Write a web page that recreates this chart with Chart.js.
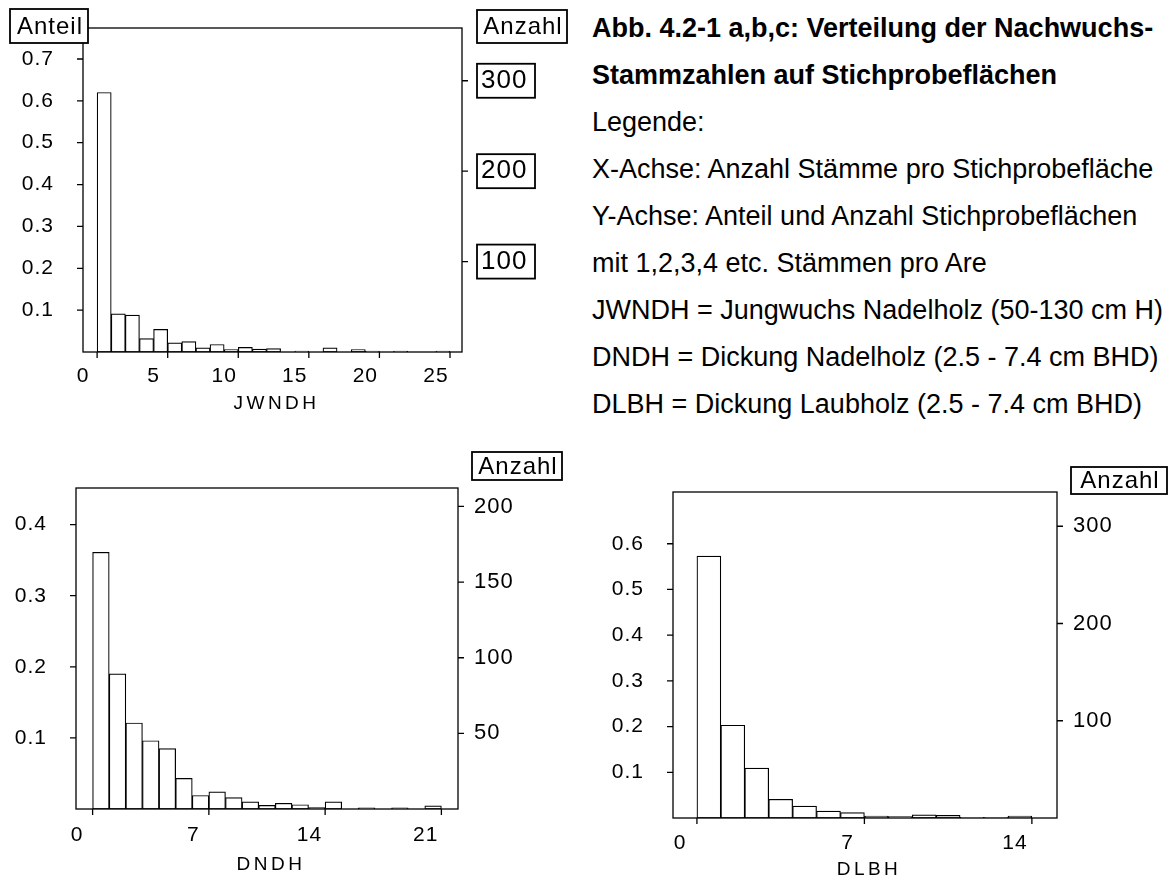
<!DOCTYPE html>
<html lang="de">
<head>
<meta charset="utf-8">
<title>Abb. 4.2-1 a,b,c: Verteilung der Nachwuchs-Stammzahlen</title>
<script src="https://cdn.jsdelivr.net/npm/chart.js@4.4.1/dist/chart.umd.min.js"></script>
<style>
  html, body { margin: 0; padding: 0; background: #fff; }
  body { width: 1170px; height: 882px; position: relative; overflow: hidden;
         font-family: "Liberation Sans", Arial, sans-serif; color: #000; }
  canvas { position: absolute; }
  #legende { position: absolute; left: 592px; top: 5px; font-size: 27px;
             line-height: 47px; white-space: nowrap; }
</style>
</head>
<body>
<canvas id="jwndh" width="580" height="440" style="left:0;top:0"></canvas>
<canvas id="dndh" width="580" height="442" style="left:0;top:440px"></canvas>
<canvas id="dlbh" width="590" height="442" style="left:580px;top:440px"></canvas>

<div id="legende">
  <b>Abb. 4.2-1 a,b,c: Verteilung der Nachwuchs-</b><br>
  <b>Stammzahlen auf Stichprobeflächen</b><br>
  Legende:<br>
  X-Achse: Anzahl Stämme pro Stichprobefläche<br>
  Y-Achse: Anteil und Anzahl Stichprobeflächen<br>
  mit 1,2,3,4 etc. Stämmen pro Are<br>
  JWNDH = Jungwuchs Nadelholz (50-130 cm H)<br>
  DNDH = Dickung Nadelholz (2.5 - 7.4 cm BHD)<br>
  DLBH = Dickung Laubholz (2.5 - 7.4 cm BHD)
</div>

<script>
// --- data: share of sample plots per stem class (class k spans k..k+1) ---
const jwndhStems = [1, 2, 3, 4, 5, 6, 7, 8, 9, 10, 11, 12, 13, 14, 15, 16, 17, 18, 19, 20, 21, 22, 23, 24, 25];
const jwndhShare = [0.620, 0.091, 0.088, 0.032, 0.054, 0.022, 0.025, 0.010, 0.018, 0.006, 0.011, 0.007, 0.008,
                    0, 0.002, 0, 0.010, 0, 0.006, 0.002, 0, 0.002, 0, 0, 0.002];
const jwndhPlots = 463;
const jwndhShareTicks = [0.1, 0.2, 0.3, 0.4, 0.5, 0.6, 0.7];
const jwndhCountTicks = [100, 200, 300];
const jwndhStemTicks = [0, 5, 10, 15, 20, 25];
const jwndhStemMarks = [1, 6, 11, 16, 21, 26];

const dndhStems = [1, 2, 3, 4, 5, 6, 7, 8, 9, 10, 11, 12, 13, 14, 15, 16, 17, 18, 19, 20, 21];
const dndhShare = [0.361, 0.190, 0.121, 0.096, 0.085, 0.043, 0.019, 0.024, 0.016, 0.010, 0.005,
                   0.008, 0.006, 0.002, 0.010, 0, 0.0015, 0, 0.0015, 0, 0.0045];
const dndhPlots = 470;
const dndhShareTicks = [0.1, 0.2, 0.3, 0.4];
const dndhCountTicks = [50, 100, 150, 200];
const dndhStemTicks = [0, 7, 14, 21];
const dndhStemMarks = [1, 8, 15, 22];

const dlbhStems = [1, 2, 3, 4, 5, 6, 7, 8, 9, 10, 11, 12, 13, 14];
const dlbhShare = [0.573, 0.203, 0.109, 0.041, 0.026, 0.015, 0.012, 0.004, 0.003, 0.007, 0.006, 0.0015, 0.001, 0.004];
const dlbhPlots = 470;
const dlbhShareTicks = [0.1, 0.2, 0.3, 0.4, 0.5, 0.6];
const dlbhCountTicks = [100, 200, 300];
const dlbhStemTicks = [0, 7, 14];
const dlbhStemMarks = [1, 8, 15];

const FONT = '"Liberation Sans", Arial, sans-serif';

// slightly spread lettering, like the old plotter output
const spreadText = {
  id: 'spreadText',
  beforeLayout(chart) { chart.ctx.letterSpacing = '1px'; },
  beforeDraw(chart) { chart.ctx.letterSpacing = '1px'; }
};

// frame, tick marks, boxed captions and the axis name
const frame = {
  id: 'frame',
  afterDraw(chart, args, o) {
    const {ctx, chartArea: a} = chart;
    const {x, y, y2} = chart.scales;
    ctx.save();
    ctx.strokeStyle = '#000';
    ctx.lineWidth = 1.3;
    ctx.strokeRect(a.left, a.top, a.right - a.left, a.bottom - a.top);

    ctx.beginPath();
    o.stemMarks.forEach(v => {
      const px = x.getPixelForValue(v);
      ctx.moveTo(px, a.bottom);
      ctx.lineTo(px, a.bottom + 6);
    });
    y.ticks.forEach(t => {
      const py = y.getPixelForValue(t.value);
      ctx.moveTo(a.left - 6, py);
      ctx.lineTo(a.left, py);
    });
    y2.ticks.forEach(t => {
      const py = y2.getPixelForValue(t.value);
      ctx.moveTo(a.right, py);
      ctx.lineTo(a.right + 6, py);
    });
    ctx.stroke();

    ctx.lineWidth = 1.8;
    if (o.boxedCounts) {
      y2.ticks.forEach(t => {
        const py = y2.getPixelForValue(t.value);
        ctx.strokeRect(a.right + 15, py - 17, 58, 34);
      });
    }

    o.boxes.forEach(b => {
      ctx.fillStyle = '#fff';
      ctx.fillRect(b.x, b.y, b.w, b.h);
      ctx.strokeRect(b.x, b.y, b.w, b.h);
      ctx.fillStyle = '#000';
      ctx.font = '24px ' + FONT;
      ctx.letterSpacing = '1px';
      ctx.textAlign = 'center';
      ctx.textBaseline = 'middle';
      ctx.fillText(b.text, b.x + b.w / 2 + 1, b.y + b.h / 2 + 1);
    });

    ctx.fillStyle = '#000';
    ctx.font = '19px ' + FONT;
    ctx.letterSpacing = '3.5px';
    ctx.textAlign = 'center';
    ctx.textBaseline = 'middle';
    ctx.fillText(o.caption, (a.left + a.right) / 2 + 4, a.bottom + o.captionGap);
    ctx.restore();
  }
};

function histogram(id, stems, share, plots, shareTicks, countTicks, stemTicks, stemMarks, look) {
  const canvas = document.getElementById(id);
  const W = canvas.width, H = canvas.height;
  const area = look.area;
  const zeroPad = s => { s.paddingTop = 0; s.paddingBottom = 0; s.paddingLeft = 0; s.paddingRight = 0; };
  const tickFont = size => ({family: FONT, size: size});

  return new Chart(canvas, {
    type: 'bar',
    data: {
      datasets: [{
        data: stems.map((s, i) => ({x: s + 0.5, y: share[i]})),
        backgroundColor: '#fff',
        borderColor: '#000',
        borderWidth: 1.2,
        borderSkipped: false,
        barPercentage: 1,
        categoryPercentage: 1
      }]
    },
    options: {
      responsive: false,
      animation: false,
      devicePixelRatio: 1,
      layout: {padding: {left: 0, right: 0, bottom: 0, top: area.top}},
      plugins: {
        legend: {display: false},
        tooltip: {enabled: false},
        frame: {
          stemMarks: stemMarks,
          boxedCounts: look.boxedCounts,
          boxes: look.boxes,
          caption: look.caption,
          captionGap: look.captionGap
        }
      },
      scales: {
        x: {
          type: 'linear',
          offset: false,
          min: 0,
          max: look.xMax,
          grid: {display: false, drawTicks: false, offset: false},
          border: {display: false},
          afterBuildTicks: s => { s.ticks = stemTicks.map(v => ({value: v})); },
          afterFit: s => { s.height = H - area.bottom; zeroPad(s); },
          ticks: {autoSkip: false, maxRotation: 0, padding: look.xPad, labelOffset: look.xShift,
                  color: '#000', font: tickFont(21), callback: v => String(v)}
        },
        y: {
          min: 0,
          max: look.shareMax,
          grid: {display: false, drawTicks: false},
          border: {display: false},
          afterBuildTicks: s => { s.ticks = shareTicks.map(v => ({value: v})); },
          afterFit: s => { s.width = area.left; zeroPad(s); },
          ticks: {padding: 29, color: '#000', font: tickFont(21), callback: v => v.toFixed(1)}
        },
        y2: {
          position: 'right',
          min: 0,
          max: look.shareMax * plots,
          grid: {display: false, drawTicks: false},
          border: {display: false},
          afterBuildTicks: s => { s.ticks = countTicks.map(v => ({value: v})); },
          afterFit: s => { s.width = W - area.right; zeroPad(s); },
          ticks: {padding: look.countPad, color: '#000', font: tickFont(look.countSize),
                  callback: v => String(v)}
        }
      }
    },
    plugins: [spreadText, frame]
  });
}

histogram('jwndh', jwndhStems, jwndhShare, jwndhPlots, jwndhShareTicks, jwndhCountTicks,
  jwndhStemTicks, jwndhStemMarks, {
    area: {left: 83, top: 28, right: 462, bottom: 352},
    xMax: 26.85, shareMax: 0.774, xPad: 12, xShift: 0, countPad: 19, countSize: 26,
    boxedCounts: true, caption: 'JWNDH', captionGap: 52,
    boxes: [
      {text: 'Anteil', x: 10, y: 9, w: 78, h: 34},
      {text: 'Anzahl', x: 477, y: 10, w: 90, h: 33}
    ]
  });

histogram('dndh', dndhStems, dndhShare, dndhPlots, dndhShareTicks, dndhCountTicks,
  dndhStemTicks, dndhStemMarks, {
    area: {left: 76, top: 48, right: 458, bottom: 369},
    xMax: 23, shareMax: 0.4515, xPad: 14, xShift: 1, countPad: 16, countSize: 22,
    boxedCounts: false, caption: 'DNDH', captionGap: 56,
    boxes: [
      {text: 'Anzahl', x: 472, y: 12, w: 90, h: 28}
    ]
  });

histogram('dlbh', dlbhStems, dlbhShare, dlbhPlots, dlbhShareTicks, dlbhCountTicks,
  dlbhStemTicks, dlbhStemMarks, {
    area: {left: 93, top: 52, right: 477, bottom: 378},
    xMax: 16.05, shareMax: 0.7132, xPad: 13, xShift: 7, countPad: 16, countSize: 22,
    boxedCounts: false, caption: 'DLBH', captionGap: 52,
    boxes: [
      {text: 'Anzahl', x: 491, y: 27, w: 96, h: 27}
    ]
  });
</script>
</body>
</html>
